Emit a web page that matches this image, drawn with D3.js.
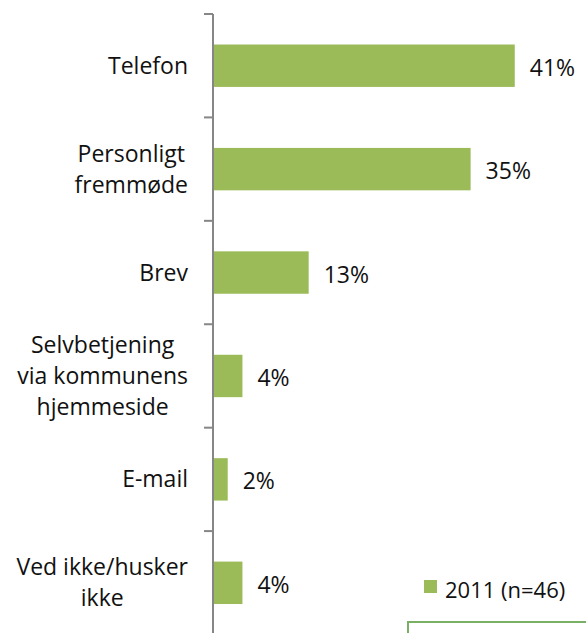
<!DOCTYPE html>
<html>
<head>
<meta charset="utf-8">
<script src="https://cdn.jsdelivr.net/npm/d3@7"></script>
<style>
  body { margin: 0; background: #fff; }
  text { font-family: "Open Sans", "Noto Sans", sans-serif; fill: #111; }
</style>
</head>
<body>
<div class="chart"></div>
<script>
// data
const categories = [
	["Telefon"],
	["Personligt", "fremmøde"],
	["Brev"],
	["Selvbetjening", "via kommunens", "hjemmeside"],
	["E-mail"],
	["Ved ikke/husker", "ikke"]
];
const values = [41, 35, 13, 4, 2, 4];
const seriesName = "2011 (n=46)";

const width = 586, height = 633;
const axisX = 213;

const svg = d3.select('.chart')
	.append('svg')
	.attr('width', width)
	.attr('height', height);

const y = d3.scaleBand()
	.domain(d3.range(categories.length))
	.range([14, 634.5])
	.paddingInner(0.59)
	.paddingOuter(0.295);

const x = d3.scaleLinear()
	.domain([0, 50])
	.range([axisX, axisX + 368]);

// bars
svg.selectAll('rect.bar')
	.data(values)
	.enter()
	.append('rect')
	.attr('class', 'bar')
	.attr('x', x(0))
	.attr('y', (d, i) => y(i))
	.attr('width', d => x(d) - x(0))
	.attr('height', y.bandwidth())
	.attr('fill', '#9bbb59');

// value labels
svg.selectAll('text.val')
	.data(values)
	.enter()
	.append('text')
	.attr('class', 'val')
	.attr('x', d => x(d) + 15)
	.attr('y', (d, i) => y(i) + y.bandwidth() / 2 + 10)
	.attr('font-size', 23)
	.text(d => d + '%');

// axis line and ticks at band edges
const step = y.step();
const start = y.range()[0];
svg.append('line')
	.attr('x1', axisX).attr('x2', axisX)
	.attr('y1', start).attr('y2', height)
	.attr('stroke', '#868686')
	.attr('stroke-width', 2);

svg.selectAll('line.tick')
	.data(d3.range(categories.length))
	.enter()
	.append('line')
	.attr('class', 'tick')
	.attr('x1', axisX - 9).attr('x2', axisX)
	.attr('y1', i => start + i * step)
	.attr('y2', i => start + i * step)
	.attr('stroke', '#868686')
	.attr('stroke-width', 2);

// category labels: block right edge at 188, lines centred in block
const lineH = 31;
const labels = svg.selectAll('g.cat')
	.data(categories)
	.enter()
	.append('g')
	.attr('class', 'cat');

labels.each(function(lines, i) {
	const g = d3.select(this);
	const cy = y(i) + y.bandwidth() / 2;
	const t = g.selectAll('text')
		.data(lines)
		.enter()
		.append('text')
		.attr('font-size', 23)
		.attr('text-anchor', 'middle')
		.attr('y', (d, k) => cy + 8 + (k - (lines.length - 1) / 2) * lineH)
		.text(d => d);
	let maxW = 0;
	t.each(function() { maxW = Math.max(maxW, this.getComputedTextLength()); });
	t.attr('x', 188 - maxW / 2);
});

// legend
svg.append('rect')
	.attr('x', 424).attr('y', 580)
	.attr('width', 13).attr('height', 13)
	.attr('fill', '#9bbb59');
svg.append('text')
	.attr('x', 445).attr('y', 598)
	.attr('font-size', 22)
	.text(seriesName);

// green outlined box cut off at the bottom
svg.append('rect')
	.attr('x', 408).attr('y', 622)
	.attr('width', 200).attr('height', 40)
	.attr('fill', 'none')
	.attr('stroke', '#7aaf66')
	.attr('stroke-width', 2);
</script>
</body>
</html>
